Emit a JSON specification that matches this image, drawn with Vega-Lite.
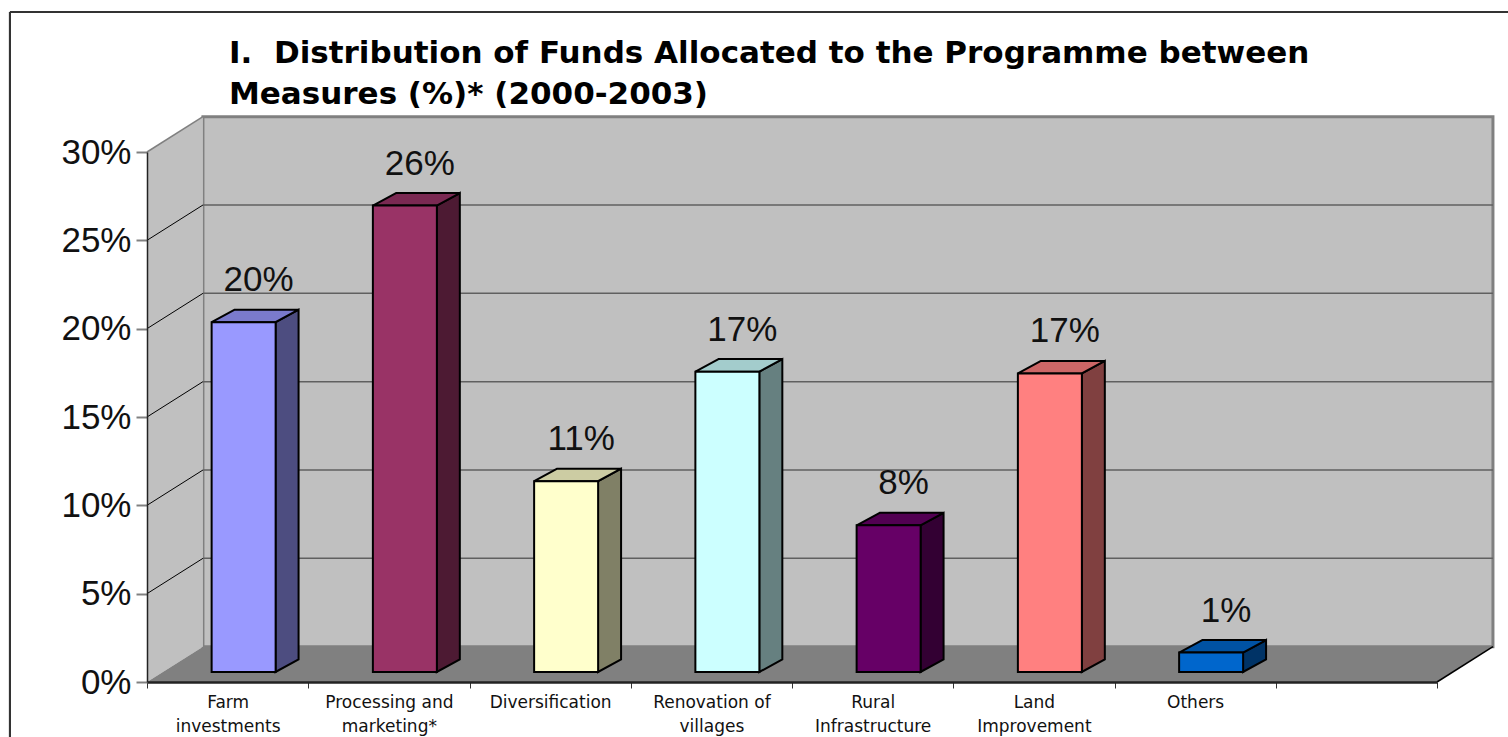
{
"$schema":"https://vega.github.io/schema/vega-lite/v6.json",
"width":1290,"height":530,
"autosize":"none",
"padding":{"left":147,"top":152,"right":71,"bottom":55},
"background":"white",
"config":{"view":{"stroke":null},"font":"Liberation Sans"},
"title":{"text":["I.\u00a0 Distribution of Funds Allocated to the Programme between","Measures (%)* (2000-2003)"],"anchor":"start","frame":"group","dx":82,"offset":-100,"font":"DejaVu Sans","fontSize":31,"fontWeight":"bold","color":"black","lineHeight":41},
"datasets":{
"measures":[
{"measure":"Farm investments","value":19.8},
{"measure":"Processing and marketing*","value":26.4},
{"measure":"Diversification","value":10.8},
{"measure":"Renovation of villages","value":17.0},
{"measure":"Rural Infrastructure","value":8.3},
{"measure":"Land Improvement","value":16.9},
{"measure":"Others","value":1.1}
],
"edges":[{"edge":0},{"edge":1}],
"grid":[{"tick":5},{"tick":10},{"tick":15},{"tick":20},{"tick":25}]
},
"resolve":{"scale":{"x":"independent","color":"independent"}},
"layer":[
{
"resolve":{"scale":{"color":"independent"}},
"layer":[
{"data":{"name":"edges"},
 "transform":[{"calculate":"-0.85","as":"fx"},{"calculate":"8.44","as":"fx2"},{"calculate":"37.92","as":"fy"},{"calculate":"-3.2","as":"fy0"}],
 "mark":{"type":"rule","color":"#333333","strokeWidth":2},
 "encoding":{"x":{"field":"fx","type":"quantitative","axis":null,"scale":{"domain":[0,8],"nice":false,"zero":false}},"y":{"field":"fy0","type":"quantitative"},"y2":{"field":"fy"}}},
{"data":{"name":"edges"},
 "transform":[{"calculate":"-0.85","as":"fx"},{"calculate":"8.44","as":"fx2"},{"calculate":"37.92","as":"fy"}],
 "mark":{"type":"rule","color":"#333333","strokeWidth":2},
 "encoding":{"x":{"field":"fx","type":"quantitative"},"x2":{"field":"fx2"},"y":{"field":"fy","type":"quantitative"}}},
{"data":{"name":"edges"},
 "transform":[{"filter":"datum.edge==0"},{"calculate":"0.347","as":"bx"},{"calculate":"8.347","as":"bx2"},{"calculate":"2","as":"by"},{"calculate":"32","as":"by2"}],
 "mark":{"type":"rect","fill":"#C0C0C0","stroke":"#808080","strokeWidth":3},
 "encoding":{"x":{"field":"bx","type":"quantitative"},"x2":{"field":"bx2"},"y":{"field":"by","type":"quantitative"},"y2":{"field":"by2"}}},
{"data":{"name":"edges"},
 "transform":[{"calculate":"datum.edge*0.347","as":"wx"},{"calculate":"datum.edge*2","as":"wy"},{"calculate":"30+datum.edge*2","as":"wy2"}],
 "mark":{"type":"area","orient":"vertical","fill":"#C0C0C0"},
 "encoding":{"x":{"field":"wx","type":"quantitative"},"y":{"field":"wy","type":"quantitative","stack":null},"y2":{"field":"wy2"}}},
{"data":{"name":"edges"},
 "transform":[{"calculate":"datum.edge*0.347","as":"wx"},{"calculate":"8+datum.edge*0.347","as":"wx2"},{"calculate":"datum.edge*2","as":"wy"}],
 "mark":{"type":"area","orient":"horizontal","fill":"#808080"},
 "encoding":{"x":{"field":"wx","type":"quantitative","stack":null},"x2":{"field":"wx2"},"y":{"field":"wy","type":"quantitative"}}},
{"data":{"name":"grid"},
 "transform":[{"calculate":"0.347","as":"gx"},{"calculate":"8.347","as":"gx2"},{"calculate":"datum.tick+2","as":"gy"}],
 "mark":{"type":"rule","color":"#606060","strokeWidth":1.5},
 "encoding":{"x":{"field":"gx","type":"quantitative"},"x2":{"field":"gx2"},"y":{"field":"gy","type":"quantitative"}}},
{"data":{"name":"grid"},
 "transform":[{"calculate":"0","as":"gx"},{"calculate":"0.347","as":"gx2"},{"calculate":"datum.tick+2","as":"gy2"}],
 "mark":{"type":"rule","color":"#000000","strokeWidth":1},
 "encoding":{"x":{"field":"gx","type":"quantitative"},"x2":{"field":"gx2"},"y":{"field":"tick","type":"quantitative"},"y2":{"field":"gy2"}}},
{"data":{"values":[{"tick":30,"c":"#808080"},{"tick":0,"c":"#000000"}]},
 "transform":[{"calculate":"datum.tick==0?8:0","as":"gx"},{"calculate":"datum.tick==0?8.347:0.347","as":"gx2"},{"calculate":"datum.tick+2","as":"gy2"}],
 "mark":{"type":"rule","strokeWidth":1.5},
 "encoding":{"x":{"field":"gx","type":"quantitative"},"x2":{"field":"gx2"},"y":{"field":"tick","type":"quantitative"},"y2":{"field":"gy2"},"color":{"field":"c","type":"nominal","scale":null,"legend":null}}},
{"data":{"name":"measures"},
 "transform":[{"window":[{"op":"row_number","as":"n"}]},{"calculate":"[0,1]","as":"edge"},{"flatten":["edge"]},
  {"calculate":"datum.n-1+0.797+datum.edge*0.143","as":"sx"},{"calculate":"datum.value+0.566+datum.edge*0.71","as":"sy"},{"calculate":"0.566+datum.edge*0.71","as":"sy2"}],
 "mark":{"type":"area","orient":"vertical","stroke":"black","strokeWidth":2,"strokeJoin":"miter"},
 "encoding":{"x":{"field":"sx","type":"quantitative"},"y":{"field":"sy","type":"quantitative","stack":null},"y2":{"field":"sy2"},"detail":{"field":"measure"},
  "color":{"field":"measure","type":"nominal","legend":null,"scale":{"domain":["Farm investments","Processing and marketing*","Diversification","Renovation of villages","Rural Infrastructure","Land Improvement","Others"],"range":["#4D4D80","#4D1A33","#808066","#668080","#330033","#804040","#003366"]}}}},
{"data":{"name":"measures"},
 "transform":[{"window":[{"op":"row_number","as":"n"}]},{"calculate":"[0,1]","as":"edge"},{"flatten":["edge"]},
  {"calculate":"datum.n-1+0.401+datum.edge*0.143","as":"tx"},{"calculate":"datum.n-1+0.797+datum.edge*0.143","as":"tx2"},{"calculate":"datum.value+0.566+datum.edge*0.71","as":"ty"}],
 "mark":{"type":"area","orient":"horizontal","stroke":"black","strokeWidth":2,"strokeJoin":"miter"},
 "encoding":{"x":{"field":"tx","type":"quantitative","stack":null},"x2":{"field":"tx2"},"y":{"field":"ty","type":"quantitative"},"detail":{"field":"measure"},
  "color":{"field":"measure","type":"nominal","legend":null,"scale":{"domain":["Farm investments","Processing and marketing*","Diversification","Renovation of villages","Rural Infrastructure","Land Improvement","Others"],"range":["#7A7ACC","#7A2952","#CCCCA3","#A3CCCC","#520052","#CC6666","#0052A3"]}}}}
]},
{
"data":{"name":"measures"},
"layer":[
{"mark":{"type":"bar","size":64,"xOffset":16,"yOffset":-10,"y2Offset":-10,"stroke":"black","strokeWidth":2},
 "encoding":{
  "x":{"field":"measure","type":"nominal","sort":null,"title":null,
   "scale":{"type":"band","domain":["Farm investments","Processing and marketing*","Diversification","Renovation of villages","Rural Infrastructure","Land Improvement","Others"," "],"paddingInner":0,"paddingOuter":0},
   "axis":{"orient":"bottom","zindex":1,"tickBand":"extent","labelAngle":0,"labelFont":"DejaVu Sans","labelFontSize":17,"labelColor":"#111111","labelPadding":6,"labelLineHeight":24,"labelBaseline":"top","labelOverlap":false,"labelBound":false,"labelFlush":false,"labelLimit":0,"tickSize":6,"tickColor":"#333333","domainColor":"#222222","domainWidth":2.5,"ticks":true,
    "labelExpr":"datum.label=='Processing and marketing*'?['Processing and','marketing*']:datum.label=='Renovation of villages'?['Renovation of','villages']:split(datum.label,' ')"}},
  "y":{"field":"value","type":"quantitative","title":null,"scale":{"domain":[0,30],"nice":false},
   "axis":{"zindex":1,"values":[0,5,10,15,20,25,30],"labelExpr":"datum.value+'%'","labelFont":"Liberation Sans","labelFontSize":35,"labelColor":"#111111","labelPadding":5,"tickSize":11,"tickColor":"#808080","tickWidth":2,"domainColor":"#222222","domainWidth":1.5,"grid":false}},
  "color":{"field":"measure","type":"nominal","legend":null,"scale":{"domain":["Farm investments","Processing and marketing*","Diversification","Renovation of villages","Rural Infrastructure","Land Improvement","Others"],"range":["#9999FF","#993366","#FFFFCC","#CCFFFF","#660066","#FF8080","#0066CC"]}}}},
{"transform":[{"calculate":"format(datum.value,'.0f')+'%'","as":"lab"}],
 "mark":{"type":"text","font":"Liberation Sans","fontSize":35,"color":"#111111","xOffset":31,"yOffset":-52,"baseline":"middle","align":"center"},
 "encoding":{"x":{"field":"measure","type":"nominal","sort":null},"y":{"field":"value","type":"quantitative"},"text":{"field":"lab"}}}
]}
]}
